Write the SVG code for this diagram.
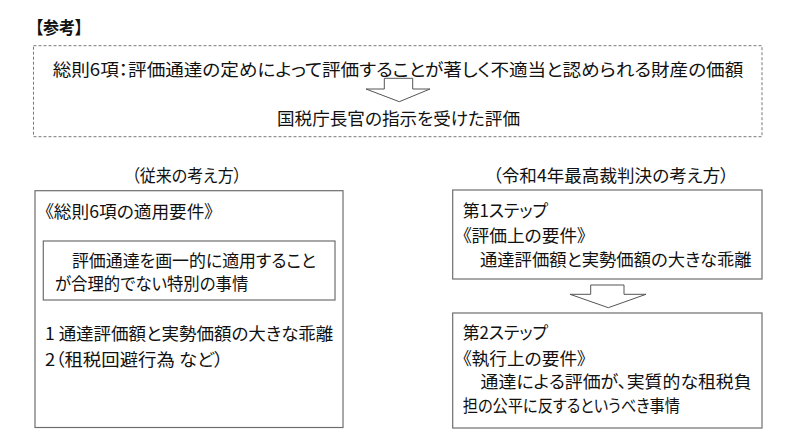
<svg xmlns="http://www.w3.org/2000/svg" width="800" height="446" viewBox="0 0 800 446">
<style>
text{font-family:"Noto Sans CJK JP","Noto Sans",sans-serif;font-size:17.5px;fill:#111;font-feature-settings:"palt";}
.box{fill:#fff;stroke:#6e6e6e;stroke-width:1.2;}
.dash{fill:none;stroke:#7a7a7a;stroke-width:1;stroke-dasharray:3,2;}
.arrow{fill:#fff;stroke:#555;stroke-width:1;}
.b{font-weight:bold;}
</style>
<rect width="800" height="446" fill="#fff"/>
<g id="title">
<text class="b" x="35" y="33.5" textLength="48" lengthAdjust="spacingAndGlyphs">【参考】</text>
</g>
<g id="reference">
<rect class="dash" x="33.5" y="45.7" width="728.5" height="91"/>
<text x="52.7" y="75.6" textLength="690.6" lengthAdjust="spacingAndGlyphs">総則6項：評価通達の定めによって評価することが著しく不適当と認められる財産の価額</text>
<text x="277" y="124.6" textLength="243" lengthAdjust="spacingAndGlyphs">国税庁長官の指示を受けた評価</text>
</g>
<g id="heading-left">
<text x="131.7" y="181.6" textLength="110" lengthAdjust="spacingAndGlyphs">（従来の考え方）</text>
</g>
<g id="heading-right">
<text x="493" y="181.6" textLength="236" lengthAdjust="spacingAndGlyphs">（令和4年最高裁判決の考え方）</text>
</g>
<g id="left-box">
<rect class="box" x="35" y="190.7" width="308" height="236.8"/>
<text x="45" y="218.3" textLength="168.3" lengthAdjust="spacingAndGlyphs">《総則6項の適用要件》</text>
<text x="45" y="339.9" textLength="288.3" lengthAdjust="spacingAndGlyphs">1 通達評価額と実勢価額の大きな乖離</text>
<text x="45" y="365.6" textLength="178.3" lengthAdjust="spacingAndGlyphs">2（租税回避行為 など）</text>
</g>
<g id="special-circumstance">
<rect class="box" x="43.3" y="241" width="291.7" height="59"/>
<text x="55" y="266.6" textLength="261" lengthAdjust="spacingAndGlyphs">　評価通達を画一的に適用すること</text>
<text x="55" y="289.9" textLength="193.3" lengthAdjust="spacingAndGlyphs">が合理的でない特別の事情</text>
</g>
<g id="step1">
<rect class="box" x="452.7" y="190" width="309.3" height="89"/>
<text x="462.7" y="216.6" textLength="85.3" lengthAdjust="spacingAndGlyphs">第1ステップ</text>
<text x="462.7" y="241.6" textLength="123.3" lengthAdjust="spacingAndGlyphs">《評価上の要件》</text>
<text x="462.7" y="265.9" textLength="289" lengthAdjust="spacingAndGlyphs">　通達評価額と実勢価額の大きな乖離</text>
</g>
<g id="step2">
<rect class="box" x="452.7" y="313" width="309.3" height="115"/>
<text x="462.7" y="339.3" textLength="85.3" lengthAdjust="spacingAndGlyphs">第2ステップ</text>
<text x="462.7" y="364.6" textLength="123.3" lengthAdjust="spacingAndGlyphs">《執行上の要件》</text>
<text x="462.7" y="388.3" textLength="289" lengthAdjust="spacingAndGlyphs">　通達による評価が、実質的な租税負</text>
<text x="462.7" y="411.6" textLength="217.3" lengthAdjust="spacingAndGlyphs">担の公平に反するというべき事情</text>
</g>
<g id="connectors">
<polygon class="arrow" points="384.3,78.3 412.7,78.3 412.7,89 430,89 399.3,101.7 366,89 384.3,89"/>
<polygon class="arrow" points="590.7,285 624,285 624,294.3 646,294.3 608.3,307.7 570,294.3 590.7,294.3"/>
</g>
</svg>
